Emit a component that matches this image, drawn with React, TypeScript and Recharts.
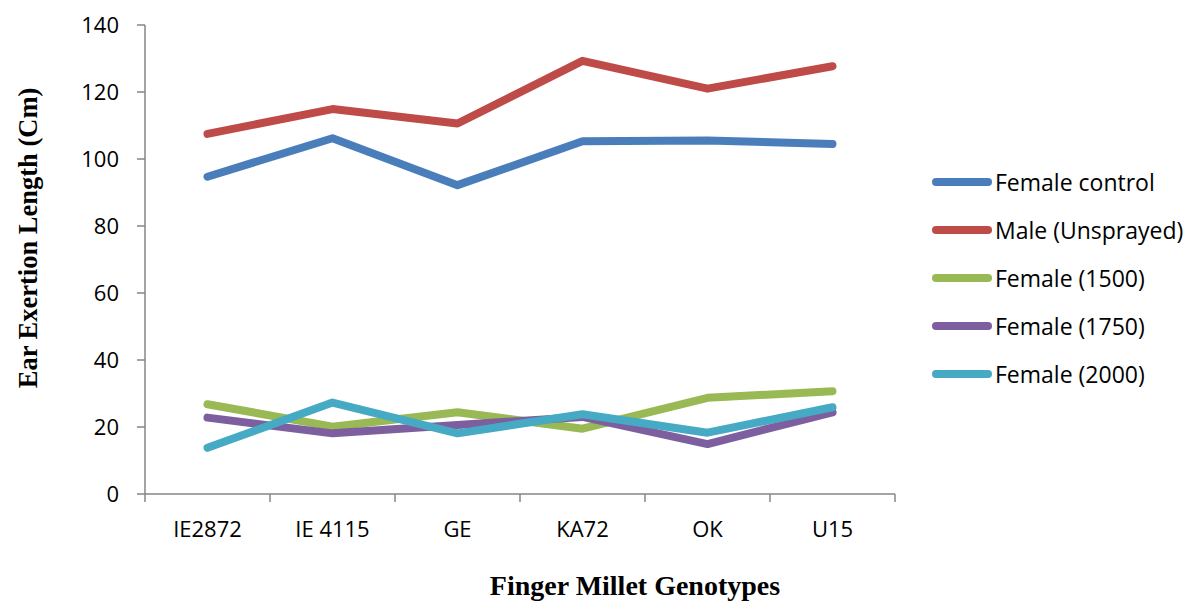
import React from 'react';
import { LineChart, Line, XAxis, YAxis, Legend } from 'recharts';

// Finger millet genotypes on the category axis
const genotypes = ['IE2872', 'IE 4115', 'GE', 'KA72', 'OK', 'U15'];

// Ear exertion length (cm) per treatment
const femaleControl = [94.7, 106.2, 92.2, 105.3, 105.5, 104.5];
const maleUnsprayed = [107.5, 114.9, 110.6, 129.3, 121.0, 127.7];
const female1500 = [26.8, 20.1, 24.4, 19.5, 28.7, 30.7];
const female1750 = [22.8, 18.1, 20.6, 23.0, 14.9, 24.4];
const female2000 = [13.8, 27.3, 18.1, 23.8, 18.3, 25.9];

const yTicks = [0, 20, 40, 60, 80, 100, 120, 140];

const seriesDefs = [
  { key: 'fc', name: 'Female control', color: '#4A7EBB', values: femaleControl },
  { key: 'mu', name: 'Male (Unsprayed)', color: '#BE4B48', values: maleUnsprayed },
  { key: 'f1500', name: 'Female (1500)', color: '#98B954', values: female1500 },
  { key: 'f1750', name: 'Female (1750)', color: '#7D5FA0', values: female1750 },
  { key: 'f2000', name: 'Female (2000)', color: '#46AAC5', values: female2000 },
];

const data = genotypes.map((g, i) => {
  const row: Record<string, string | number> = { genotype: g };
  seriesDefs.forEach((s) => {
    row[s.key] = s.values[i];
  });
  return row;
});

const AXIS_GREY = '#868686';
const TICK_FONT = '"Open Sans", sans-serif';
const TITLE_FONT = '"Liberation Serif", "Times New Roman", serif';

const CHART_W = 1188;
const PLOT_LEFT = 145;
const PLOT_RIGHT = 895;
const LEGEND_W = 256;
const HALF_BAND = (PLOT_RIGHT - PLOT_LEFT) / genotypes.length / 2;

// Category tick: label centred on the category, tick marks on the band boundaries
const CategoryTick = (props: any) => {
  const { x, y, payload, index, visibleTicksCount } = props;
  const top = y - 8;
  return (
    <g>
      <line x1={x - HALF_BAND} y1={top} x2={x - HALF_BAND} y2={top + 8} stroke={AXIS_GREY} strokeWidth={1.5} />
      {index === visibleTicksCount - 1 && (
        <line x1={x + HALF_BAND} y1={top} x2={x + HALF_BAND} y2={top + 8} stroke={AXIS_GREY} strokeWidth={1.5} />
      )}
      <text
        x={x}
        y={top + 34}
        textAnchor="middle"
        dominantBaseline="central"
        fontFamily={TICK_FONT}
        fontSize={22}
        fill="#000"
      >
        {payload.value}
      </text>
    </g>
  );
};

const LegendContent = () => (
  <div style={{ display: 'flex', flexDirection: 'column', width: LEGEND_W }}>
    {seriesDefs.map((s) => (
      <div key={s.key} style={{ display: 'flex', alignItems: 'center', height: 48 }}>
        <div style={{ width: 60, height: 8, borderRadius: 4, background: s.color, marginRight: 3 }} />
        <span style={{ fontFamily: TICK_FONT, fontSize: 23, color: '#000', whiteSpace: 'nowrap' }}>{s.name}</span>
      </div>
    ))}
  </div>
);

export default function App() {
  return (
    <div style={{ position: 'absolute', left: 0, top: 0, background: '#fff' }}>
      <LineChart
        width={CHART_W}
        height={601}
        data={data}
        margin={{ top: 25, right: CHART_W - PLOT_RIGHT - LEGEND_W, bottom: 0, left: 0 }}
      >
        <XAxis
          dataKey="genotype"
          height={107}
          padding={{ left: HALF_BAND, right: HALF_BAND }}
          axisLine={{ stroke: AXIS_GREY, strokeWidth: 1.5 }}
          tickLine={false}
          interval={0}
          tick={<CategoryTick />}
          label={{
            content: () => (
              <text
                x={635}
                y={585}
                textAnchor="middle"
                dominantBaseline="central"
                fontFamily={TITLE_FONT}
                fontWeight="bold"
                fontSize={28}
                fill="#000"
              >
                Finger Millet Genotypes
              </text>
            ),
          }}
        />
        <YAxis
          width={PLOT_LEFT}
          domain={[0, 140]}
          ticks={yTicks}
          interval={0}
          axisLine={{ stroke: AXIS_GREY, strokeWidth: 1.5 }}
          tickLine={{ stroke: AXIS_GREY, strokeWidth: 1.5 }}
          tickSize={8}
          tickMargin={18}
          tick={{ fontFamily: TICK_FONT, fontSize: 22, fill: '#000' }}
          label={{
            content: () => (
              <text
                transform="translate(28,238) rotate(-90)"
                textAnchor="middle"
                dominantBaseline="central"
                fontFamily={TITLE_FONT}
                fontWeight="bold"
                fontSize={26.5}
                fill="#000"
              >
                Ear Exertion Length (Cm)
              </text>
            ),
          }}
        />
        {seriesDefs.map((s) => (
          <Line
            key={s.key}
            type="linear"
            dataKey={s.key}
            name={s.name}
            stroke={s.color}
            strokeWidth={8}
            strokeLinecap="round"
            strokeLinejoin="round"
            dot={false}
            activeDot={false}
            isAnimationActive={false}
          />
        ))}
        <Legend
          layout="vertical"
          align="right"
          verticalAlign="top"
          content={<LegendContent />}
          wrapperStyle={{ left: 932, top: 158, width: LEGEND_W }}
        />
      </LineChart>
    </div>
  );
}
